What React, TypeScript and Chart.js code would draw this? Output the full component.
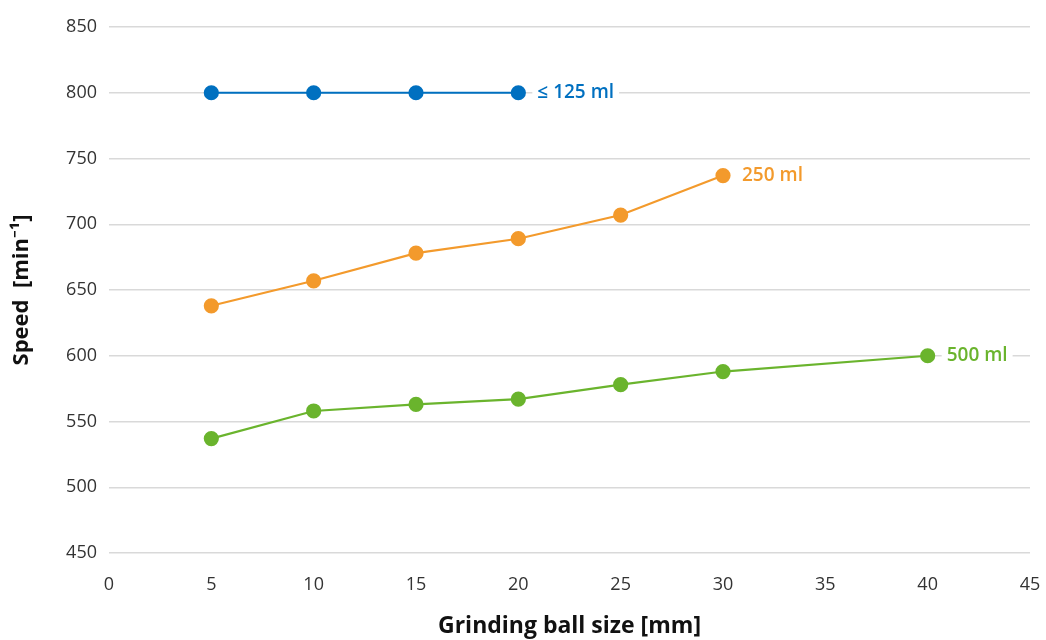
import React, { useEffect, useRef } from "react";
import { Chart, registerables } from "chart.js";

Chart.register(...registerables);

const seriesNames = ["≤ 125 ml", "250 ml", "500 ml"];
const seriesColors = ["#0070C0", "#F39A2C", "#6AB42D"];
const xSmall = [5, 10, 15, 20];
const ySmall = [800, 800, 800, 800];
const x250 = [5, 10, 15, 20, 25, 30];
const y250 = [638, 657, 678, 689, 707, 737];
const x500 = [5, 10, 15, 20, 25, 30, 40];
const y500 = [537, 558, 563, 567, 578, 588, 600];
const xTitle = "Grinding ball size [mm]";
const yTitle = "Speed  [min⁻¹]";

const FONT = "'Open Sans', 'Noto Sans', sans-serif";

const endLabels = {
  id: "endLabels",
  afterDatasetsDraw(chart: any) {
    const ctx = chart.ctx;
    ctx.save();
    ctx.font = `600 19px ${FONT}`;
    ctx.textBaseline = "middle";
    ctx.textAlign = "left";
    chart.data.datasets.forEach((ds: any, i: number) => {
      const meta = chart.getDatasetMeta(i);
      const pt = meta.data[meta.data.length - 1];
      if (!pt) return;
      const x = pt.x + 19;
      const y = pt.y;
      const w = ctx.measureText(ds.label).width;
      ctx.fillStyle = "#ffffff";
      ctx.fillRect(x - 5, y - 11, w + 10, 22);
      ctx.fillStyle = ds.borderColor;
      ctx.fillText(ds.label, x, y);
    });
    ctx.restore();
  },
};

export default function App() {
  const ref = useRef<HTMLCanvasElement>(null);
  useEffect(() => {
    if (!ref.current) return;
    const mk = (xs: number[], ys: number[]) => xs.map((x, i) => ({ x, y: ys[i] }));
    const datasets = [
      mk(xSmall, ySmall),
      mk(x250, y250),
      mk(x500, y500),
    ].map((data, i) => ({
      label: seriesNames[i],
      data,
      borderColor: seriesColors[i],
      backgroundColor: seriesColors[i],
      pointBackgroundColor: seriesColors[i],
      pointBorderColor: seriesColors[i],
      pointRadius: 6.5,
      borderWidth: 2.2,
      tension: 0,
    }));
    const chart = new Chart(ref.current, {
      type: "line",
      data: { datasets },
      plugins: [endLabels],
      options: {
        animation: false,
        responsive: false,
        maintainAspectRatio: false,
        layout: { padding: { top: 27, right: 16, left: 0, bottom: 0 } },
        plugins: { legend: { display: false }, tooltip: { enabled: false } },
        scales: {
          x: {
            type: "linear",
            min: 0,
            max: 45,
            ticks: { stepSize: 5, color: "#333333", font: { family: FONT, size: 18 }, padding: 13 },
            grid: { display: false },
            border: { display: false },
            title: {
              display: true,
              text: xTitle,
              color: "#111111",
              font: { family: FONT, size: 23, weight: "bold" },
              padding: { top: 0, bottom: 0 },
            },
            afterFit(scale: any) {
              scale.height = 87;
              scale.paddingRight = 0;
              scale.paddingLeft = 0;
            },
          },
          y: {
            min: 450,
            max: 850,
            ticks: { stepSize: 50, color: "#333333", font: { family: FONT, size: 18 }, padding: 12 },
            grid: { color: "#d9d9d9", lineWidth: 1.5, drawTicks: false },
            border: { display: false },
            title: {
              display: true,
              text: yTitle,
              color: "#111111",
              font: { family: FONT, size: 22, weight: "bold" },
              padding: { top: 9, bottom: 0 },
            },
            afterFit(scale: any) {
              scale.width = 109;
              scale.paddingTop = 0;
              scale.paddingBottom = 0;
            },
          },
        },
      },
    } as any);
    return () => chart.destroy();
  }, []);
  return (
    <div style={{ position: "absolute", left: 0, top: 0, width: 1046, height: 640, background: "#fff" }}>
      <canvas ref={ref} width={1046} height={640} style={{ width: 1046, height: 640 }} />
    </div>
  );
}
